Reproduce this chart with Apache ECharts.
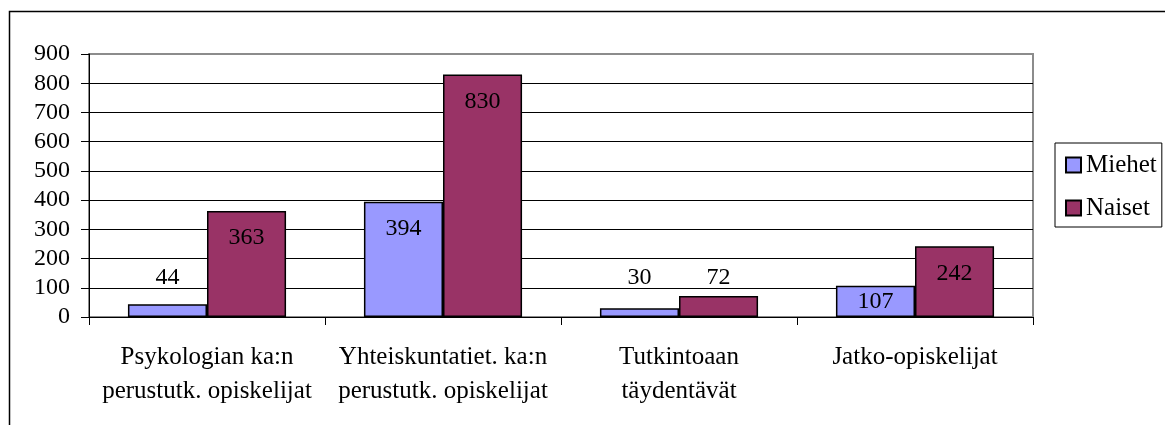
<!DOCTYPE html>
<html>
<head>
<meta charset="utf-8">
<script src="https://cdn.jsdelivr.net/npm/echarts@6/dist/echarts.min.js"></script>
<style>
  html, body { margin: 0; padding: 0; background: #fff; }
  #chart { width: 1165px; height: 425px; }
</style>
</head>
<body>
<div id="chart"></div>
<script>
const categories = [
  'Psykologian ka:n\nperustutk. opiskelijat',
  'Yhteiskuntatiet. ka:n\nperustutk. opiskelijat',
  'Tutkintoaan\ntäydentävät',
  'Jatko-opiskelijat'
];
const miehet = [44, 394, 30, 107];
const naiset = [363, 830, 72, 242];
const yTicks = ['0', '100', '200', '300', '400', '500', '600', '700', '800', '900'];

const font = 'Liberation Serif';
const yMax = 900;
const plotHeight = 263;

// Excel-ish label placement: inside the top of tall bars, above very short ones
function labelFor(v) {
  const h = v / yMax * plotHeight;
  if (h >= 60) return { position: 'insideTop', distance: 15 };
  if (h >= 28) return { position: 'inside' };
  // short bars: labels sit on a common line just above
  return { position: 'top', distance: Math.max(6, (138 - v) / yMax * plotHeight - 13) };
}

function seriesData(values) {
  return values.map(v => ({ value: v, label: labelFor(v) }));
}

const chart = echarts.init(document.getElementById('chart'));
chart.setOption({
  animation: false,
  textStyle: { fontFamily: font, color: '#000' },
  graphic: [{
    type: 'rect',
    shape: { x: 9.5, y: 11.5, width: 1300, height: 600 },
    style: { fill: 'none', stroke: '#000', lineWidth: 1.5 },
    silent: true
  }],
  grid: {
    left: 89, right: 132, top: 54, bottom: 108,
    show: true, borderColor: '#8c8c8c', borderWidth: 2
  },
  legend: {
    orient: 'vertical',
    left: 1055, top: 143,
    padding: [9, 5, 6, 10],
    itemWidth: 15, itemHeight: 15, itemGap: 17,
    borderColor: '#000', borderWidth: 1,
    icon: 'rect',
    textStyle: { fontFamily: font, fontSize: 25, color: '#000', lineHeight: 26 },
    data: ['Miehet', 'Naiset']
  },
  xAxis: {
    type: 'category',
    data: categories,
    axisLine: { lineStyle: { color: '#000', width: 1 } },
    axisTick: { show: true, length: 8, lineStyle: { color: '#000' } },
    axisLabel: {
      fontFamily: font, fontSize: 25, color: '#000',
      lineHeight: 34, margin: 23, interval: 0
    }
  },
  yAxis: {
    type: 'value',
    min: 0, max: yMax, interval: 100,
    axisLine: { show: true, lineStyle: { color: '#000', width: 1 } },
    axisTick: { show: true, length: 8, lineStyle: { color: '#000' } },
    axisLabel: {
      fontFamily: font, fontSize: 24, color: '#000', margin: 19,
      formatter: v => yTicks[v / 100]
    },
    splitLine: { show: true, showMaxLine: false, lineStyle: { color: '#000', width: 1 } }
  },
  series: [
    {
      name: 'Miehet', type: 'bar',
      data: seriesData(miehet),
      barGap: '0%', barCategoryGap: '33%',
      itemStyle: { color: '#9999FF', borderColor: '#000', borderWidth: 1.5 },
      label: { show: true, fontFamily: font, fontSize: 24, color: '#000' }
    },
    {
      name: 'Naiset', type: 'bar',
      data: seriesData(naiset),
      barGap: '0%', barCategoryGap: '33%',
      itemStyle: { color: '#993366', borderColor: '#000', borderWidth: 1.5 },
      label: { show: true, fontFamily: font, fontSize: 24, color: '#000' }
    }
  ]
});
</script>
</body>
</html>
